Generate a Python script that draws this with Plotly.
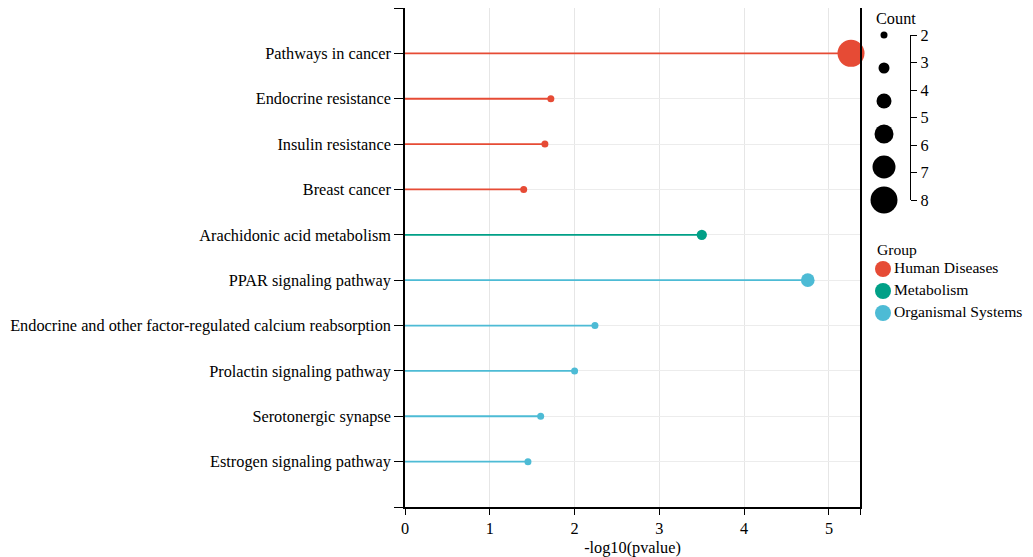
import plotly.graph_objects as go

pathways = ["Pathways in cancer", "Endocrine resistance", "Insulin resistance", "Breast cancer",
            "Arachidonic acid metabolism", "PPAR signaling pathway",
            "Endocrine and other factor-regulated calcium reabsorption",
            "Prolactin signaling pathway", "Serotonergic synapse", "Estrogen signaling pathway"]
neglog_p = [5.26, 1.72, 1.65, 1.40, 3.50, 4.75, 2.24, 2.00, 1.60, 1.45]
counts = [8, 2, 2, 2, 3, 4, 2, 2, 2, 2]
groups = ["Human Diseases"] * 4 + ["Metabolism"] + ["Organismal Systems"] * 5
group_names = ["Human Diseases", "Metabolism", "Organismal Systems"]
group_colors = {"Human Diseases": "#E64B35", "Metabolism": "#00A087", "Organismal Systems": "#4DBBD5"}
x_ticks = [0, 1, 2, 3, 4, 5]
count_ticks = [2, 3, 4, 5, 6, 7, 8]
count_legend = [2, 3.2, 4.4, 5.6, 6.8, 8]

X_MAX = 5.366
FONT = "Liberation Serif"
FS = 16.3
LEG_FS = 15.6

# page geometry (the page body adds an 8px offset)
W, H = 1025, 549
L, T, B = 397, 0, 50
PW = W - L
PH = H - T - B


def xp(px):
    return (px - 8 - L) / PW


def yp(py):
    return (8 + T + PH - py) / PH


def size_of(c):
    return 3.33 * c + 0.33


fig = go.Figure()
ypos = list(range(len(pathways)))

for g in group_names:
    idx = [i for i in range(len(pathways)) if groups[i] == g]
    lx, ly = [], []
    for i in idx:
        lx += [0, neglog_p[i], None]
        ly += [ypos[i], ypos[i], None]
    fig.add_trace(go.Scatter(x=lx, y=ly, mode="lines", line=dict(color=group_colors[g], width=1.8),
                             showlegend=False, hoverinfo="skip", cliponaxis=False))
for g in group_names:
    idx = [i for i in range(len(pathways)) if groups[i] == g]
    fig.add_trace(go.Scatter(x=[neglog_p[i] for i in idx], y=[ypos[i] for i in idx], mode="markers",
                             name=g, showlegend=False,
                             marker=dict(color=group_colors[g], size=[size_of(counts[i]) for i in idx],
                                         line=dict(width=0), opacity=1),
                             cliponaxis=False))

# size legend
fig.add_trace(go.Scatter(x=[0] * len(count_legend), y=count_legend, mode="markers",
                         marker=dict(color="#000000", size=[size_of(c) for c in count_legend],
                                     line=dict(width=0), opacity=1),
                         xaxis="x2", yaxis="y2", showlegend=False, hoverinfo="skip", cliponaxis=False))

# group legend
fig.add_trace(go.Scatter(x=[0] * len(group_names), y=list(range(len(group_names))), mode="markers+text",
                         text=group_names, textposition="middle right",
                         textfont=dict(family=FONT, size=LEG_FS, color="black"),
                         marker=dict(color=[group_colors[g] for g in group_names], size=16,
                                     line=dict(width=0), opacity=1),
                         xaxis="x3", yaxis="y3", showlegend=False, hoverinfo="skip", cliponaxis=False))

fig.update_layout(
    width=W, height=H,
    margin=dict(l=L, r=0, t=T, b=B, pad=0),
    paper_bgcolor="white", plot_bgcolor="rgba(0,0,0,0)",
    font=dict(family=FONT, size=FS, color="black"),
    showlegend=False,
    xaxis=dict(domain=[0, xp(860)], range=[0, X_MAX], tickvals=x_ticks + [X_MAX],
               ticktext=[str(t) for t in x_ticks] + [""], showgrid=True, gridcolor="#e6e6e6", gridwidth=1,
               zeroline=False, showline=True, linecolor="black", linewidth=1.6, mirror=True,
               ticks="outside", ticklen=6, tickcolor="black", tickwidth=1.4,
               title=dict(text="-log10(pvalue)", standoff=2, font=dict(size=FS)),
               automargin=False),
    yaxis=dict(range=[10, -1], tickvals=[-1] + ypos + [10], ticktext=[""] + pathways + [""],
               showgrid=True, gridcolor="#ececec", gridwidth=1, zeroline=False,
               showline=True, linecolor="black", linewidth=1.6, mirror=True,
               ticks="outside", ticklen=9, tickcolor="black", tickwidth=1.4, automargin=False),
    xaxis2=dict(domain=[xp(858), xp(910)], range=[-1, 1], anchor="y2", visible=False, fixedrange=True),
    yaxis2=dict(domain=[yp(200), yp(35)], range=[8, 2], anchor="x2", side="right",
                tickvals=count_ticks, ticktext=[str(c) for c in count_ticks], showgrid=False, zeroline=False,
                showline=True, linecolor="black", linewidth=1.4, ticks="outside", ticklen=6,
                tickcolor="black", tickwidth=1.4, automargin=False, tickfont=dict(size=FS)),
    xaxis3=dict(domain=[xp(873), xp(893)], range=[-1, 1], anchor="y3", visible=False, fixedrange=True),
    yaxis3=dict(domain=[yp(324), yp(258)], range=[2.5, -0.5], anchor="x3", visible=False, fixedrange=True),
    annotations=[
        dict(text="Count", x=xp(896), y=yp(18), xref="paper", yref="paper", xanchor="center",
             yanchor="middle", showarrow=False, font=dict(size=FS)),
        dict(text="Group", x=xp(875), y=yp(249), xref="paper", yref="paper", xanchor="left",
             yanchor="middle", showarrow=False, font=dict(size=LEG_FS)),
    ],
)

fig.write_html("out.html")
